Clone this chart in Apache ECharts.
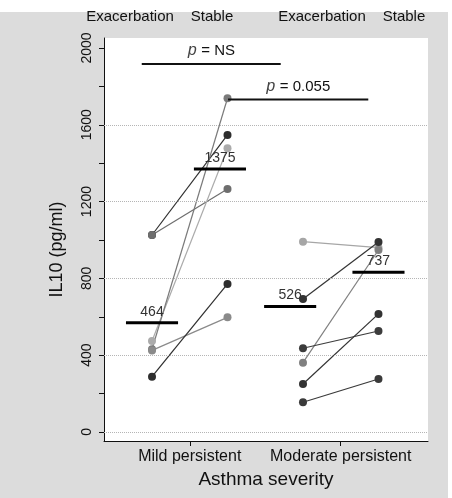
<!DOCTYPE html>
<html>
<head>
<meta charset="utf-8">
<script src="https://cdn.jsdelivr.net/npm/echarts@6/dist/echarts.min.js"></script>
<style>
html,body{margin:0;padding:0;background:#fff;}
#c{width:452px;height:498px;}
</style>
</head>
<body>
<div id="c"></div>
<script>
// ---- data ----
const categories = ['Mild persistent', 'Moderate persistent'];
const conditions = ['Exacerbation', 'Stable'];
const mildExac   = [1026, 1026, 474, 431, 425, 288];
const mildStable = [1547, 1266, 1478, 1738, 597, 771];
const modExac    = [991, 693, 361, 436, 250, 155];
const modStable  = [960, 990, 948, 526, 615, 276];
const mildShade  = ['#2e2e2e', '#6e6e6e', '#ababab', '#7a7a7a', '#8a8a8a', '#2e2e2e'];
const modShade   = ['#a6a6a6', '#333333', '#808080', '#3c3c3c', '#333333', '#3a3a3a'];
const medianLabels = ['464', '1375', '526', '737'];
const medianValues = [569, 1370, 653, 832];
const medianPos    = [0, 0.9, 1.83, 3.0];
const sigLabels = ['NS', '0.055'];
const sigValues = [1917, 1732];
const sigFrom   = [-0.136, 1.007];
const sigTo     = [1.705, 2.865];
const yTicks  = [0, 200, 400, 600, 800, 1000, 1200, 1400, 1600, 1800, 2000];
const yLabels = [0, 400, 800, 1200, 1600, 2000];
const gridValues = [0, 400, 800, 1200, 1600];
const topLabelPos = [-0.291, 0.795, 2.252, 3.338];
const catPos = [0.5, 2.5];

const FONT = '"Liberation Sans", Arial, Helvetica, sans-serif';

const pairSeries = [];
function addPairs(ex, st, shades, x0) {
  for (let i = 0; i < ex.length; i++) {
    pairSeries.push({
      type: 'line',
      data: [[x0, ex[i]], [x0 + 1, st[i]]],
      symbol: 'circle',
      symbolSize: 8,
      lineStyle: { color: shades[i], width: 1.2 },
      itemStyle: { color: shades[i] },
      z: 3, silent: true, animation: false
    });
  }
}
addPairs(mildExac, mildStable, mildShade, 0);
addPairs(modExac, modStable, modShade, 2);

const chart = echarts.init(document.getElementById('c'), null, { renderer: 'canvas' });

const option = {
  animation: false,
  backgroundColor: '#fff',
  graphic: [{
    type: 'rect', z: -10, silent: true,
    shape: { x: 0, y: 12, width: 448, height: 486 },
    style: { fill: '#dcdcdc' }
  }],
  grid: {
    left: 104, right: 24, top: 38, bottom: 57,
    show: true, backgroundColor: '#ffffff', borderWidth: 0
  },
  xAxis: [{
    type: 'value', min: -0.636, max: 3.656, position: 'bottom',
    axisLine: { show: true, onZero: false, lineStyle: { color: '#111', width: 1 } },
    axisTick: { show: true, customValues: catPos, length: 5, lineStyle: { color: '#111' } },
    axisLabel: {
      customValues: catPos, margin: 8,
      formatter: (v) => categories[catPos.indexOf(v)] || '',
      fontFamily: FONT, fontSize: 16, color: '#111'
    },
    splitLine: { show: false },
    name: 'Asthma severity', nameLocation: 'middle', nameGap: 28,
    nameTextStyle: { fontFamily: FONT, fontSize: 19, color: '#111' }
  }, {
    type: 'value', min: -0.636, max: 3.656, position: 'top',
    axisLine: { show: false }, axisTick: { show: false },
    axisLabel: {
      customValues: topLabelPos, margin: 14,
      formatter: (v) => conditions[topLabelPos.indexOf(v) % 2],
      fontFamily: FONT, fontSize: 15, color: '#111'
    },
    splitLine: { show: false }
  }],
  yAxis: {
    type: 'value', min: -47, max: 2052,
    axisLine: { show: true, onZero: false, lineStyle: { color: '#111', width: 1 } },
    axisTick: { show: true, customValues: yTicks, length: 5, lineStyle: { color: '#111' } },
    axisLabel: {
      customValues: yLabels, rotate: 90, margin: 10,
      formatter: (v) => String(v),
      fontFamily: FONT, fontSize: 14, color: '#111'
    },
    splitLine: { show: false },
    name: 'IL10 (pg/ml)', nameLocation: 'middle', nameGap: 38, nameRotate: 90,
    nameTextStyle: { fontFamily: FONT, fontSize: 18, color: '#111', padding: [0, 20, 0, 0] }
  },
  series: [
    {
      type: 'line', data: [], silent: true, z: 1,
      markLine: {
        silent: true, symbol: 'none', label: { show: false },
        lineStyle: { type: 'dotted', color: '#b5b5b5', width: 1 },
        data: gridValues.map(v => ({ yAxis: v }))
      }
    },
    ...pairSeries,
    {
      type: 'custom', z: 5, silent: true,
      data: medianValues.map((v, i) => [medianPos[i], v, i]),
      renderItem: (params, api) => {
        const c = api.value(0), v = api.value(1), idx = api.value(2);
        const p0 = api.coord([c - 0.345, v]);
        const p1 = api.coord([c + 0.345, v]);
        return {
          type: 'group', children: [
            { type: 'line', shape: { x1: p0[0], y1: p0[1], x2: p1[0], y2: p1[1] },
              style: { stroke: '#000', lineWidth: 3 } },
            { type: 'text', style: {
                text: medianLabels[idx], x: (p0[0] + p1[0]) / 2, y: p0[1] - 4,
                textAlign: 'center', textVerticalAlign: 'bottom',
                fontFamily: FONT, fontSize: 14, fill: '#333' } }
          ]
        };
      }
    },
    {
      type: 'custom', z: 5, silent: true,
      data: sigValues.map((v, i) => [sigFrom[i], sigTo[i], v, i]),
      renderItem: (params, api) => {
        const a = api.value(0), b = api.value(1), v = api.value(2), idx = api.value(3);
        const p0 = api.coord([a, v]);
        const p1 = api.coord([b, v]);
        return {
          type: 'group', children: [
            { type: 'line', shape: { x1: p0[0], y1: p0[1], x2: p1[0], y2: p1[1] },
              style: { stroke: '#111', lineWidth: 2 } },
            { type: 'text', style: {
                text: '{i|p} = ' + sigLabels[idx], x: (p0[0] + p1[0]) / 2, y: p0[1] - 5,
                textAlign: 'center', textVerticalAlign: 'bottom',
                fontFamily: FONT, fontSize: 15, fill: '#111',
                rich: { i: { fontFamily: '"Liberation Mono", "DejaVu Sans Mono", monospace',
                             fontStyle: 'italic', fontSize: 16, fill: '#444' } } } }
          ]
        };
      }
    }
  ]
};
chart.setOption(option);
</script>
</body>
</html>
